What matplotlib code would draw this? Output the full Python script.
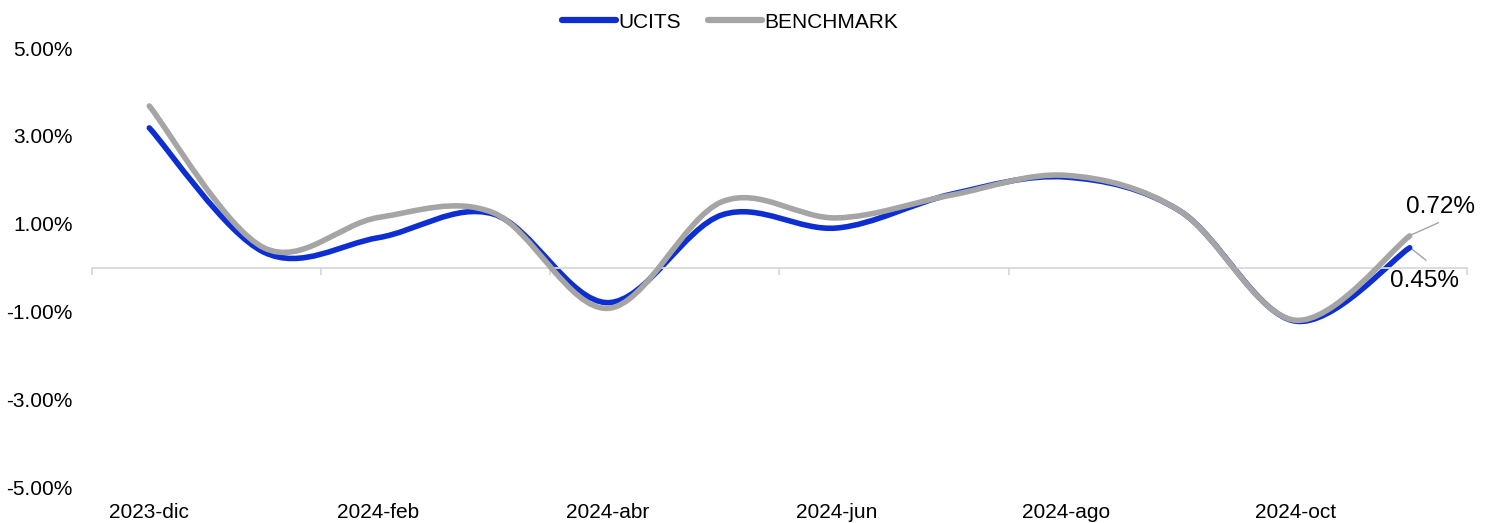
import numpy as np
import matplotlib.pyplot as plt
from matplotlib.path import Path
from matplotlib.patches import PathPatch
from matplotlib.lines import Line2D
import matplotlib.transforms as mtransforms

plt.rcParams['font.family'] = ['Liberation Sans', 'DejaVu Sans']

###DATA###
months = ['2023-dic', '2024-ene', '2024-feb', '2024-mar', '2024-abr', '2024-may',
          '2024-jun', '2024-jul', '2024-ago', '2024-sep', '2024-oct', '2024-nov']
ucits = [3.18, 0.35, 0.68, 1.22, -0.80, 1.20, 0.90, 1.67, 2.06, 1.28, -1.22, 0.45]
benchmark = [3.68, 0.45, 1.14, 1.25, -0.93, 1.50, 1.13, 1.65, 2.10, 1.28, -1.20, 0.72]
yticks = [-5, -3, -1, 1, 3, 5]

blue = '#0D2ED0'
grey = '#A5A5A5'


def smooth_path(xs, ys):
    # excel-like smoothed line: cubic bezier segments, catmull-rom tangents
    pts = np.column_stack([xs, ys]).astype(float)
    ext = np.vstack([pts[0], pts, pts[-1]])
    verts = [pts[0]]
    codes = [Path.MOVETO]
    for i in range(len(pts) - 1):
        p0, p1, p2, p3 = ext[i], ext[i + 1], ext[i + 2], ext[i + 3]
        verts += [p1 + (p2 - p0) / 6, p2 - (p3 - p1) / 6, p2]
        codes += [Path.CURVE4] * 3
    return Path(verts, codes)


##### PLOT #####
fig = plt.figure(figsize=(14.89, 5.23), dpi=100)
ax = fig.add_axes([0.0618, 0.0688, 0.9234, 0.8394])

x = np.arange(len(months))
for vals, col, z in [(ucits, blue, 2), (benchmark, grey, 3)]:
    ax.add_patch(PathPatch(smooth_path(x, vals), fc='none', ec=col, lw=4,
                           capstyle='round', zorder=z))

ax.set_xlim(-0.5, len(months) - 0.5)
ax.set_ylim(-5, 5)

for s in ['top', 'right', 'left']:
    ax.spines[s].set_visible(False)
ax.spines['bottom'].set_position(('data', 0))
ax.spines['bottom'].set_color('#D9D9D9')
ax.spines['bottom'].set_linewidth(1.3)

ax.set_xticks(np.arange(-0.5, len(months), 2))
ax.set_xticklabels([])
ax.tick_params(axis='x', direction='out', length=5, width=1.3, color='#D9D9D9')

ax.set_yticks(yticks)
ax.set_yticklabels(['{:.2f}%'.format(t) for t in yticks])
ax.tick_params(axis='y', length=0, pad=13.7, labelsize=15)

# month labels at the bottom of the plot area
trans = mtransforms.blended_transform_factory(ax.transData, ax.transAxes)
for i in range(0, len(months), 2):
    ax.text(i, -0.057, months[i], transform=trans, ha='center', va='center', fontsize=15)

# last value labels with leader lines
ax.plot([11.02, 11.25], [0.75, 1.02], color=grey, lw=1, zorder=1)
ax.text(11.27, 1.38, '{:.2f}%'.format(benchmark[-1]), ha='center', va='center', fontsize=17.5)
ax.plot([11.02, 11.14], [0.42, 0.17], color=grey, lw=1, zorder=1)
ax.text(11.13, -0.31, '{:.2f}%'.format(ucits[-1]), ha='center', va='center', fontsize=17.5)

##### LEGEND #####
handles = [Line2D([], [], color=blue, lw=4.5, solid_capstyle='round', label='UCITS'),
           Line2D([], [], color=grey, lw=4.5, solid_capstyle='round', label='BENCHMARK')]
fig.legend(handles=handles, loc='center', bbox_to_anchor=(730 / 1489, 1 - 22 / 523), ncol=2,
           frameon=False, fontsize=15, handlelength=2.6, handletextpad=0.1, columnspacing=1.3)

plt.savefig('out.png', dpi=100)
